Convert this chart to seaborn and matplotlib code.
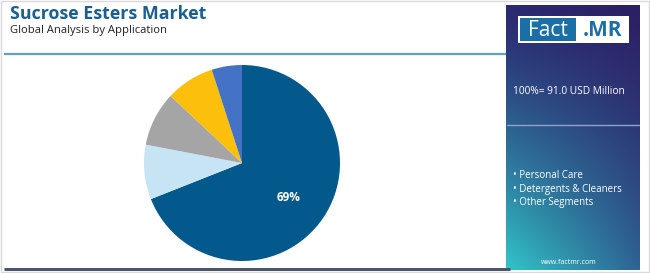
import numpy as np
import matplotlib
matplotlib.use("Agg")
import matplotlib.pyplot as plt
import seaborn as sns
from matplotlib.colors import to_rgb
from matplotlib.patches import Rectangle

sns.set_theme(style="white")
plt.rcParams['font.family'] = ['Open Sans', 'DejaVu Sans']

# Data
segments = ["Food & Beverages", "Personal Care", "Detergents & Cleaners", "Pharmaceuticals", "Other Segments"]
shares = [69, 9, 9, 8, 5]
colors = ["#03598c", "#c6e4f3", "#a5a5a5", "#fcbf0b", "#4472c4"]
panel_items = ["Personal Care", "Detergents & Cleaners", "Other Segments"]
total_label = "100%= 91.0 USD Million"
title = "Sucrose Esters Market"
subtitle = "Global Analysis by Application"

W, H = 650, 273
fig = plt.figure(figsize=(W / 100, H / 100), dpi=100)
fig.patch.set_facecolor("white")

def fx(px):
    return px / W

def fy(py):
    return 1 - py / H

# Background overlay axes
bg = fig.add_axes([0, 0, 1, 1])
bg.set_xlim(0, W)
bg.set_ylim(H, 0)
bg.axis("off")
bg.add_patch(Rectangle((0.5, 0.5), W - 1.5, H - 1.5, fill=False, edgecolor="#d9d9d9", lw=1))
bg.plot([4, 506], [54, 54], color="#5fa3c4", lw=1.6, solid_capstyle="butt")
bg.plot([4, 510], [268.5, 268.5], color="#4a5568", lw=2.2, solid_capstyle="butt")

bg.text(10, 14, title, fontsize=12.8, fontweight="bold", color="#1b5e92", va="center", ha="left")
bg.text(10, 31, subtitle, fontsize=8.1, color="#222222", va="center", ha="left")

# Gradient panel
px0, px1, py0, py1 = 506, 640, 5, 270
ny, nx = 200, 100
TL, TR = np.array(to_rgb("#2b2a72")), np.array(to_rgb("#2c1f66"))
BL, BR = np.array(to_rgb("#31c6c8")), np.array(to_rgb("#2e6393"))
yy = np.linspace(0, 1, ny)[:, None, None]
xx = np.linspace(0, 1, nx)[None, :, None]
ty = yy ** 1.3
img = (1 - ty) * ((1 - xx) * TL + xx * TR) + ty * ((1 - xx) * BL + xx * BR)
bg.imshow(img, extent=[px0, px1, py1, py0], aspect="auto", zorder=1)

# Logo
bg.add_patch(Rectangle((518, 16), 111, 27, facecolor="white", edgecolor="none", zorder=2))
bg.add_patch(Rectangle((520, 18), 56, 23, facecolor="#1a6fa6", edgecolor="none", zorder=3))
bg.text(548, 30, "Fact", fontsize=15, color="white", ha="center", va="center", zorder=4)
bg.text(603, 30, ".MR", fontsize=15, color="#1a6fa6", fontweight="bold", ha="center", va="center", zorder=4)

bg.text(513, 91, total_label, fontsize=7.3, color="white", ha="left", va="center", zorder=4)
bg.plot([507, 639], [125, 125], color="#8fa3c9", lw=1, zorder=4)
for i, item in enumerate(panel_items):
    bg.text(513, 176 + i * 13.5, "• " + item, fontsize=7.0, color="white", ha="left", va="center", zorder=4)
bg.text(569, 262, "www.factmr.com", fontsize=5.0, color="white", ha="center", va="center", zorder=4)

# Pie
cx, cy, r = 242, 163, 98
ax = fig.add_axes([fx(cx - r), fy(cy + r), (2 * r) / W, (2 * r) / H])
wedges, texts = ax.pie(shares, colors=colors, startangle=90, counterclock=False,
                       radius=1, wedgeprops=dict(linewidth=0))
ax.set_xlim(-1, 1)
ax.set_ylim(-1, 1)
ax.set_aspect("auto")
ax.axis("off")
ax.text(0.48, -0.35, f"{shares[0]}%", color="white", fontsize=8.5, fontweight="bold",
        ha="center", va="center")

fig.savefig("out.png", dpi=100, facecolor="white")
